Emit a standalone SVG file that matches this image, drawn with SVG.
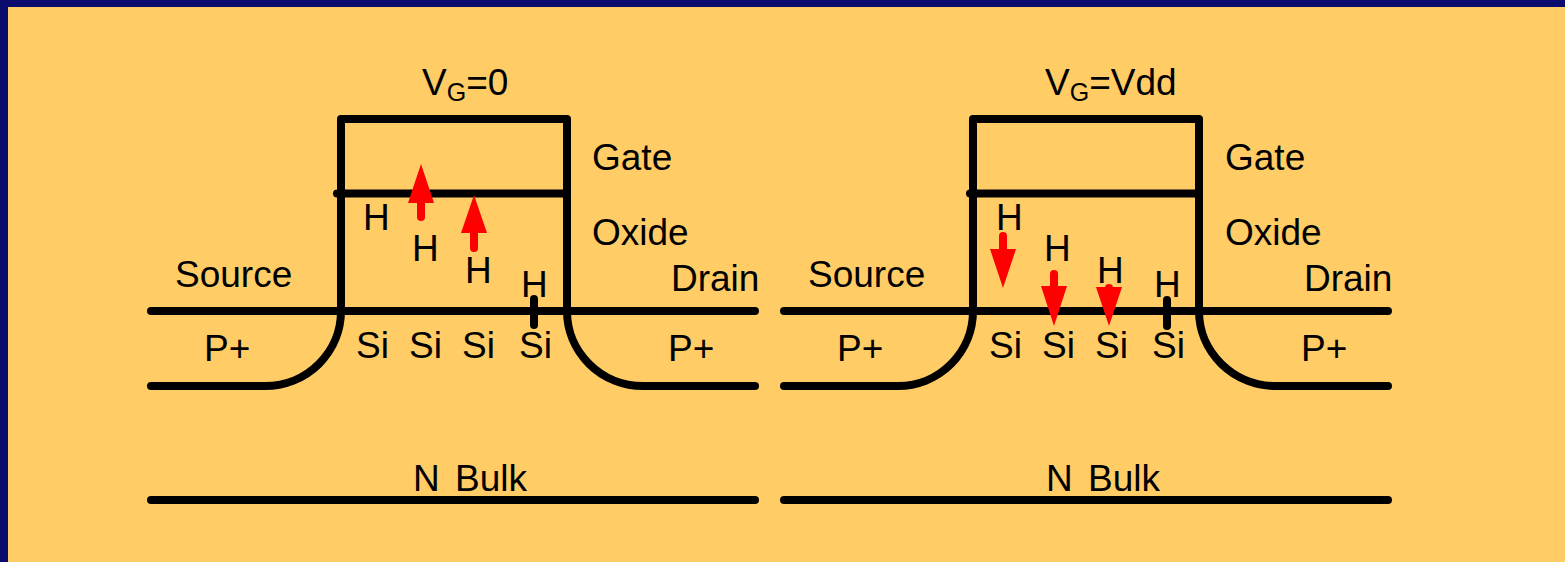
<svg xmlns="http://www.w3.org/2000/svg" width="1565" height="562" viewBox="0 0 1565 562">
<style>
.l{fill:none;stroke:#000;stroke-width:8;stroke-linecap:round;stroke-linejoin:round}
.a{fill:none;stroke:#f00;stroke-width:8;stroke-linecap:round}
.h{fill:#f00}
text{font-family:"Liberation Sans",Arial,sans-serif;font-size:37px;fill:#000}
.sub{font-size:25px}
</style>
<rect width="1565" height="562" fill="#0b0b6e"/>
<rect x="8" y="7" width="1557" height="555" fill="#ffcc66"/>
<g id="left-device">
<g id="left-connectors">
<path class="l" d="M151 311H755M341 311V119H567V311M337 193.500H567"/>
<path class="l" d="M151 386H265A76 75 0 0 0 341 311"/>
<path class="l" d="M755 386H643A76 75 0 0 1 567 311"/>
<path class="l" d="M151 500H755"/>
<path class="l" d="M534 299V325"/>
<path class="a" d="M421 200V217"/><polygon class="h" points="421,164 434,203 408,203"/>
<path class="a" d="M474 230V248"/><polygon class="h" points="474,195 487,233 461,233"/>
</g>
<g id="left-labels">
<text x="422" y="95">V<tspan class="sub" dy="6">G</tspan><tspan dy="-6">=0</tspan></text>
<text x="592" y="170">Gate</text>
<text x="592" y="245">Oxide</text>
<text x="175" y="287">Source</text>
<text x="671" y="291">Drain</text>
<text x="204" y="361">P+</text>
<text x="668" y="361">P+</text>
<text x="363" y="230">H</text>
<text x="412" y="261">H</text>
<text x="465" y="283">H</text>
<text x="521" y="297">H</text>
<text x="356" y="358">Si</text>
<text x="409" y="358">Si</text>
<text x="462" y="358">Si</text>
<text x="519" y="358">Si</text>
<text x="413" y="491">N</text>
<text x="455" y="491">Bulk</text>
</g>
</g>
<g id="right-device">
<g id="right-connectors">
<path class="l" d="M784 311H1388M973 311V119H1199V311M970 193.500H1199"/>
<path class="l" d="M784 386H898A75 75 0 0 0 973 311"/>
<path class="l" d="M1388 386H1276A77 75 0 0 1 1199 311"/>
<path class="l" d="M784 500H1388"/>
<path class="l" d="M1167 300V326"/>
<path class="a" d="M1003 236V252"/><polygon class="h" points="1003,288 1016,249 990,249"/>
<path class="a" d="M1054 274V290"/><polygon class="h" points="1054,326 1067,286 1041,286"/>
<path class="a" d="M1109 288V292"/><polygon class="h" points="1109,326 1122,287 1096,287"/>
</g>
<g id="right-labels">
<text x="1045" y="95">V<tspan class="sub" dy="6">G</tspan><tspan dy="-6">=Vdd</tspan></text>
<text x="1225" y="170">Gate</text>
<text x="1225" y="245">Oxide</text>
<text x="808" y="287">Source</text>
<text x="1304" y="291">Drain</text>
<text x="837" y="361">P+</text>
<text x="1301" y="361">P+</text>
<text x="996" y="230">H</text>
<text x="1044" y="261">H</text>
<text x="1097" y="283">H</text>
<text x="1154" y="297">H</text>
<text x="989" y="358">Si</text>
<text x="1042" y="358">Si</text>
<text x="1095" y="358">Si</text>
<text x="1152" y="358">Si</text>
<text x="1046" y="491">N</text>
<text x="1088" y="491">Bulk</text>
</g>
</g>
</svg>
